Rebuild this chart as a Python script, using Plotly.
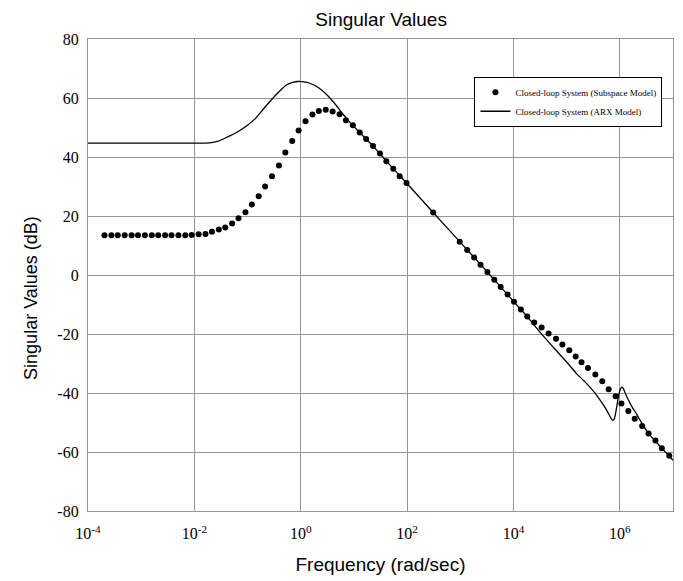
import plotly.graph_objects as go

# ---------------- data (frequency exponents log10(rad/sec), magnitudes dB) ----------------
sub_exp = [-3.69, -3.56, -3.44, -3.31, -3.18, -3.06, -2.93, -2.80, -2.68, -2.55,
           -2.43, -2.30, -2.17, -2.05, -1.92, -1.79, -1.67, -1.54, -1.42, -1.29,
           -1.17, -1.04, -0.92, -0.79, -0.67, -0.54, -0.41, -0.29, -0.16, -0.04,
           0.09, 0.22, 0.34, 0.47, 0.60, 0.73, 0.85, 0.98, 1.11, 1.23,
           1.36, 1.49, 1.61, 1.74, 1.86, 1.99, 2.49, 2.99, 3.13, 3.26,
           3.38, 3.51, 3.64, 3.76, 3.89, 4.01, 4.14, 4.26, 4.39, 4.53,
           4.66, 4.80, 4.92, 5.05, 5.17, 5.28, 5.40, 5.54, 5.67, 5.79,
           5.92, 6.03, 6.16, 6.28, 6.42, 6.54, 6.67, 6.79, 6.93]
sub_db = [13.5, 13.5, 13.5, 13.5, 13.5, 13.5, 13.5, 13.5, 13.5, 13.5,
          13.5, 13.5, 13.5, 13.6, 13.8, 13.9, 14.7, 15.4, 16.1, 17.5,
          19.2, 21.3, 23.9, 26.7, 30.0, 33.5, 37.1, 41.5, 45.4, 49.0,
          52.1, 54.4, 55.6, 56.0, 55.4, 54.5, 52.5, 50.8, 48.3, 46.1,
          43.7, 41.2, 38.6, 36.0, 33.5, 31.2, 21.2, 11.3, 8.5, 5.9,
          3.5, 1.0, -1.6, -4.1, -6.6, -9.1, -11.7, -14.1, -16.1, -17.8,
          -19.8, -21.6, -23.6, -25.5, -27.6, -29.6, -31.5, -33.7, -36.0, -38.7,
          -41.1, -43.6, -46.1, -48.7, -51.2, -53.7, -56.1, -58.7, -61.3]

arx_exp = [-4.0, -2.0, -1.71, -1.55, -1.40, -1.20, -1.02, -0.85, -0.71, -0.58,
           -0.46, -0.36, -0.27, -0.15, -0.05, 0.06, 0.17, 0.30, 0.42, 0.55,
           0.68, 0.80, 0.92, 1.11, 1.36, 1.61, 1.99, 2.49, 2.99, 3.51,
           4.01, 4.26, 4.51, 4.80, 5.03, 5.19, 5.35, 5.50, 5.61, 5.70,
           5.77, 5.83, 5.87, 5.90, 5.93, 5.97, 6.00, 6.04, 6.07, 6.11,
           6.17, 6.23, 6.30, 6.36, 6.54, 6.79, 7.00]
arx_db = [44.7, 44.7, 44.8, 45.4, 46.6, 48.4, 50.5, 53.1, 56.1, 58.8,
          61.2, 63.0, 64.4, 65.3, 65.6, 65.5, 65.0, 63.9, 62.3, 60.0,
          57.2, 54.4, 51.8, 48.3, 43.7, 38.6, 31.2, 21.2, 11.3, 1.0,
          -9.1, -14.1, -19.6, -25.5, -30.1, -33.5, -36.3, -39.3, -41.9, -44.3,
          -46.4, -48.4, -49.3, -48.6, -46.0, -41.6, -39.2, -38.0, -38.6, -40.4,
          -42.6, -44.7, -46.7, -48.6, -53.7, -58.7, -62.8]

x_tickvals_exp = [-4, -2, 0, 2, 4, 6]
x_ticktext = ["10<sup>-4</sup>", "10<sup>-2</sup>", "10<sup>0</sup>",
              "10<sup>2</sup>", "10<sup>4</sup>", "10<sup>6</sup>"]
y_tickvals = [-80, -60, -40, -20, 0, 20, 40, 60, 80]
y_ticktext = ["-80", "-60", "-40", "-20", "0", "20", "40", "60", "80"]

# ---------------- figure ----------------
sub_w = [10 ** e for e in sub_exp]
arx_w = [10 ** e for e in arx_exp]

fig = go.Figure()
fig.add_trace(go.Scatter(
    x=sub_w, y=sub_db, mode="markers",
    name="Closed-loop System (Subspace Model)",
    marker=dict(color="black", size=6),
))
fig.add_trace(go.Scatter(
    x=arx_w, y=arx_db, mode="lines",
    name="Closed-loop System (ARX Model)",
    line=dict(color="black", width=1.3, shape="spline", smoothing=0.4),
))

grid = "#959595"
fig.update_layout(
    width=683, height=581,
    margin=dict(l=88, r=9, t=39, b=66),
    paper_bgcolor="white", plot_bgcolor="white",
    title=dict(text="Singular Values", x=0.558, xanchor="center",
               y=1 - 19 / 581, yanchor="middle",
               font=dict(family="Liberation Sans, Arial", size=19, color="black")),
    showlegend=True,
    legend=dict(x=0.982, y=0.92, xanchor="right", yanchor="top",
                bgcolor="white", bordercolor="black", borderwidth=1,
                font=dict(family="Liberation Serif, Times New Roman", size=9, color="black"),
                tracegroupgap=0, itemwidth=30),
    font=dict(family="Liberation Serif, Times New Roman", color="black"),
)
fig.update_xaxes(
    type="log", range=[-4, 7],
    tickvals=[10 ** e for e in x_tickvals_exp], ticktext=x_ticktext,
    tickfont=dict(family="Liberation Serif, Times New Roman", size=16, color="black"),
    showgrid=True, gridcolor=grid, gridwidth=1.3,
    showline=True, linecolor=grid, linewidth=1.3, mirror=True,
    ticks="", ticklabelstandoff=8, zeroline=False,
    title=dict(text="Frequency (rad/sec)", standoff=16,
               font=dict(family="Liberation Sans, Arial", size=19, color="black")),
)
fig.update_yaxes(
    range=[-80, 80],
    tickvals=y_tickvals, ticktext=y_ticktext,
    tickfont=dict(family="Liberation Serif, Times New Roman", size=16, color="black"),
    showgrid=True, gridcolor=grid, gridwidth=1.3,
    showline=True, linecolor=grid, linewidth=1.3, mirror=True,
    ticks="", ticklabelstandoff=5, zeroline=False,
)
fig.add_annotation(
    text="Singular Values (dB)", textangle=-90,
    xref="paper", yref="paper", x=-(88 - 31) / 586, y=1 - (300 - 39) / 476,
    xanchor="center", yanchor="middle", showarrow=False,
    font=dict(family="Liberation Sans, Arial", size=18, color="black"),
)

fig.write_html("out.html")
